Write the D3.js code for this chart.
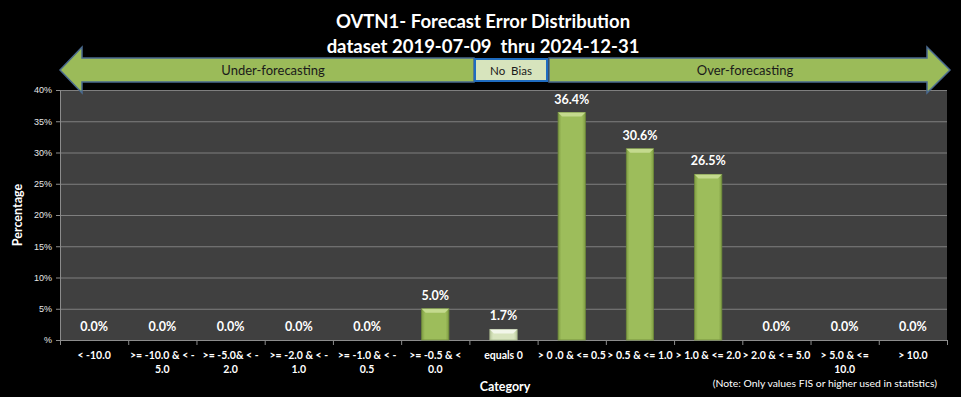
<!DOCTYPE html>
<html>
<head>
<meta charset="utf-8">
<script src="https://cdn.jsdelivr.net/npm/d3@7"></script>
<style>
  body { margin: 0; background: #000; }
  text { font-family: Lato, "Open Sans", sans-serif; }
</style>
</head>
<body>
<div id="chart"></div>
<script>
// data
var categories = ["< -10.0", ">= -10.0 & < -5.0", ">= -5.0& < -2.0", ">= -2.0 & < -1.0",
    ">= -1.0 & < -0.5", ">= -0.5 & < 0.0", "equals 0", "> 0 .0 & <= 0.5", "> 0.5 & <= 1.0",
    "> 1.0 & <= 2.0", "> 2.0 & < = 5.0", "> 5.0 & <= 10.0", "> 10.0"];
// label lines as wrapped in the picture
var categoryLines = [["< -10.0"], [">= -10.0 & < -", "5.0"], [">= -5.0& < -", "2.0"], [">= -2.0 & < -", "1.0"],
    [">= -1.0 & < -", "0.5"], [">= -0.5 & <", "0.0"], ["equals 0"], ["> 0 .0 & <= 0.5"], ["> 0.5 & <= 1.0"],
    ["> 1.0 & <= 2.0"], ["> 2.0 & < = 5.0"], ["> 5.0 & <=", "10.0"], ["> 10.0"]];
var percentValues = [0.0, 0.0, 0.0, 0.0, 0.0, 5.0, 1.7, 36.4, 30.6, 26.5, 0.0, 0.0, 0.0];
var yTicks = [0, 5, 10, 15, 20, 25, 30, 35, 40];
var titleLines = ["OVTN1- Forecast Error Distribution", "dataset 2019-07-09  thru 2024-12-31"];

var W = 961, H = 397;
var margin = {top: 90, right: 14, bottom: 57, left: 60},
    width = W - margin.left - margin.right,
    height = H - margin.top - margin.bottom;

var svg = d3.select("#chart").append("svg")
    .attr("width", W)
    .attr("height", H)
    .style("background", "#000");

var defs = svg.append("defs");
function barGradient(id, dark, mid) {
    var g = defs.append("linearGradient").attr("id", id)
        .attr("x1", "0%").attr("x2", "100%").attr("y1", "0%").attr("y2", "0%");
    g.append("stop").attr("offset", "0%").attr("stop-color", dark);
    g.append("stop").attr("offset", "12%").attr("stop-color", mid);
    g.append("stop").attr("offset", "88%").attr("stop-color", mid);
    g.append("stop").attr("offset", "100%").attr("stop-color", dark);
}
barGradient("gGreen", "#7f9c43", "#9dbd5b");
barGradient("gPale", "#b9c99c", "#d8e4bf");

var xScale = d3.scaleBand().domain(categories).range([0, width]).paddingInner(0.6).paddingOuter(0.3);
var xTickScale = d3.scaleBand().domain(categories).range([0, width]);
var yScale = d3.scaleLinear().domain([0, 40]).range([height, 0]);

var g = svg.append("g")
    .attr("transform", "translate(" + margin.left + "," + margin.top + ")");

// plot area
g.append("rect")
    .attr("width", width).attr("height", height)
    .attr("fill", "#404040");

// gridlines
g.selectAll(".grid").data(yTicks.slice(1))
    .enter().append("line")
    .attr("x1", 0).attr("x2", width)
    .attr("y1", function (d) { return yScale(d) + 0.5; })
    .attr("y2", function (d) { return yScale(d) + 0.5; })
    .attr("stroke", "#7f7f7f").attr("stroke-width", 1);

// y axis
var yAxis = d3.axisLeft(yScale).tickValues(yTicks).tickSize(4)
    .tickFormat(function (d) { return d === 0 ? "%" : d + "%"; });
var ya = g.append("g").call(yAxis);
ya.select(".domain").attr("stroke", "#8c8c8c");
ya.selectAll(".tick line").attr("stroke", "#8c8c8c");
ya.selectAll(".tick text").attr("fill", "#e8e8e8").style("font-size", "9px")
    .style("font-family", "'Liberation Sans Narrow', 'Liberation Sans', sans-serif").attr("x", -8);

// x axis line & ticks
g.append("line").attr("x1", 0).attr("x2", width)
    .attr("y1", height + 0.5).attr("y2", height + 0.5).attr("stroke", "#8c8c8c");
var tickPos = categories.map(function (c) { return xTickScale(c); }).concat([width]);
g.selectAll(".xtick").data(tickPos).enter().append("line")
    .attr("x1", function (d) { return d + 0.5; }).attr("x2", function (d) { return d + 0.5; })
    .attr("y1", height).attr("y2", height + 5).attr("stroke", "#8c8c8c");

// x labels
var xl = g.selectAll(".xlab").data(categories).enter().append("text")
    .attr("text-anchor", "middle")
    .attr("fill", "#fff").style("font-size", "10.5px").style("font-weight", "bold")
    .attr("transform", function (d) {
        return "translate(" + (xTickScale(d) + xTickScale.bandwidth() / 2) + "," + (height + 19) + ")";
    });
xl.each(function (d, i) {
    var t = d3.select(this);
    categoryLines[i].forEach(function (line, j) {
        t.append("tspan").attr("x", 0).attr("dy", j === 0 ? 0 : 13.5).text(line);
    });
});

// bars
var bars = g.selectAll(".bar").data(percentValues).enter().append("g");
bars.filter(function (d) { return d > 0; }).each(function (d, i) {
    var idx = percentValues.indexOf(d);
    var x0 = xScale(categories[idx]), bw = xScale.bandwidth();
    var y0 = yScale(d), bh = height - y0;
    var pale = categories[idx] === "equals 0";
    var b = d3.select(this);
    b.append("rect").attr("x", x0).attr("y", y0).attr("width", bw).attr("height", bh)
        .attr("fill", pale ? "url(#gPale)" : "url(#gGreen)")
        .attr("stroke", pale ? "#a9b890" : "#6e8a3a").attr("stroke-width", 0.8);
    var bev = Math.min(4, bh / 2);
    b.append("path")
        .attr("d", "M" + x0 + "," + y0 + "L" + (x0 + bw) + "," + y0 + "L" + (x0 + bw - bev) + "," + (y0 + bev) +
            "L" + (x0 + bev) + "," + (y0 + bev) + "Z")
        .attr("fill", pale ? "#f2f6ea" : "#c4da8e");
});

// data labels
g.selectAll(".dlab").data(percentValues).enter().append("text")
    .attr("x", function (d, i) { return xScale(categories[i]) + xScale.bandwidth() / 2; })
    .attr("y", function (d) { return yScale(d) - 9; })
    .attr("text-anchor", "middle")
    .attr("fill", "#fff").style("font-size", "12.5px").style("font-weight", "bold")
    .text(function (d) { return d.toFixed(1) + "%"; });

// axis titles
svg.append("text").attr("transform", "translate(22," + (margin.top + height / 2) + ") rotate(-90)")
    .attr("text-anchor", "middle").attr("fill", "#fff")
    .style("font-size", "12.5px").style("font-weight", "bold").text("Percentage");
svg.append("text").attr("x", 505).attr("y", 391)
    .attr("text-anchor", "middle").attr("fill", "#fff")
    .style("font-size", "12.5px").style("font-weight", "bold").text("Category");
svg.append("text").attr("x", 937).attr("y", 387)
    .attr("text-anchor", "end").attr("fill", "#fff")
    .style("font-size", "10.4px").text("(Note: Only values FIS or higher used in statistics)");

// title
svg.selectAll(".title").data(titleLines).enter().append("text")
    .attr("x", 483).attr("y", function (d, i) { return 28 + i * 25; })
    .attr("text-anchor", "middle").attr("fill", "#fff")
    .style("font-size", "18.5px").style("font-weight", "bold")
    .style("white-space", "pre").text(function (d) { return d; });

// bias arrows
var arrowFill = "#9bbb59", arrowStroke = "#4a6a8f";
var leftArrow = [[60, 70], [82, 47], [82, 58], [474, 58], [474, 82], [82, 82], [82, 93]];
var rightArrow = [[549, 58], [927, 58], [927, 47], [950, 70], [927, 93], [927, 82], [549, 82]];
svg.append("path").attr("d", d3.line()(leftArrow) + "Z")
    .attr("fill", arrowFill).attr("stroke", arrowStroke).attr("stroke-width", 1.5);
svg.append("path").attr("d", d3.line()(rightArrow) + "Z")
    .attr("fill", arrowFill).attr("stroke", arrowStroke).attr("stroke-width", 1.5);
svg.append("rect").attr("x", 475).attr("y", 59).attr("width", 72).attr("height", 22)
    .attr("fill", "#d7e4bd").attr("stroke", "#1f6cc0").attr("stroke-width", 2);

svg.append("text").attr("x", 273).attr("y", 75).attr("text-anchor", "middle")
    .attr("fill", "#1a1a1a").style("font-size", "13px").text("Under-forecasting");
svg.append("text").attr("x", 511).attr("y", 74.5).attr("text-anchor", "middle")
    .attr("fill", "#1a1a1a").style("font-size", "11.5px").style("white-space", "pre").text("No  Bias");
svg.append("text").attr("x", 745).attr("y", 75).attr("text-anchor", "middle")
    .attr("fill", "#1a1a1a").style("font-size", "13px").text("Over-forecasting");
</script>
</body>
</html>
